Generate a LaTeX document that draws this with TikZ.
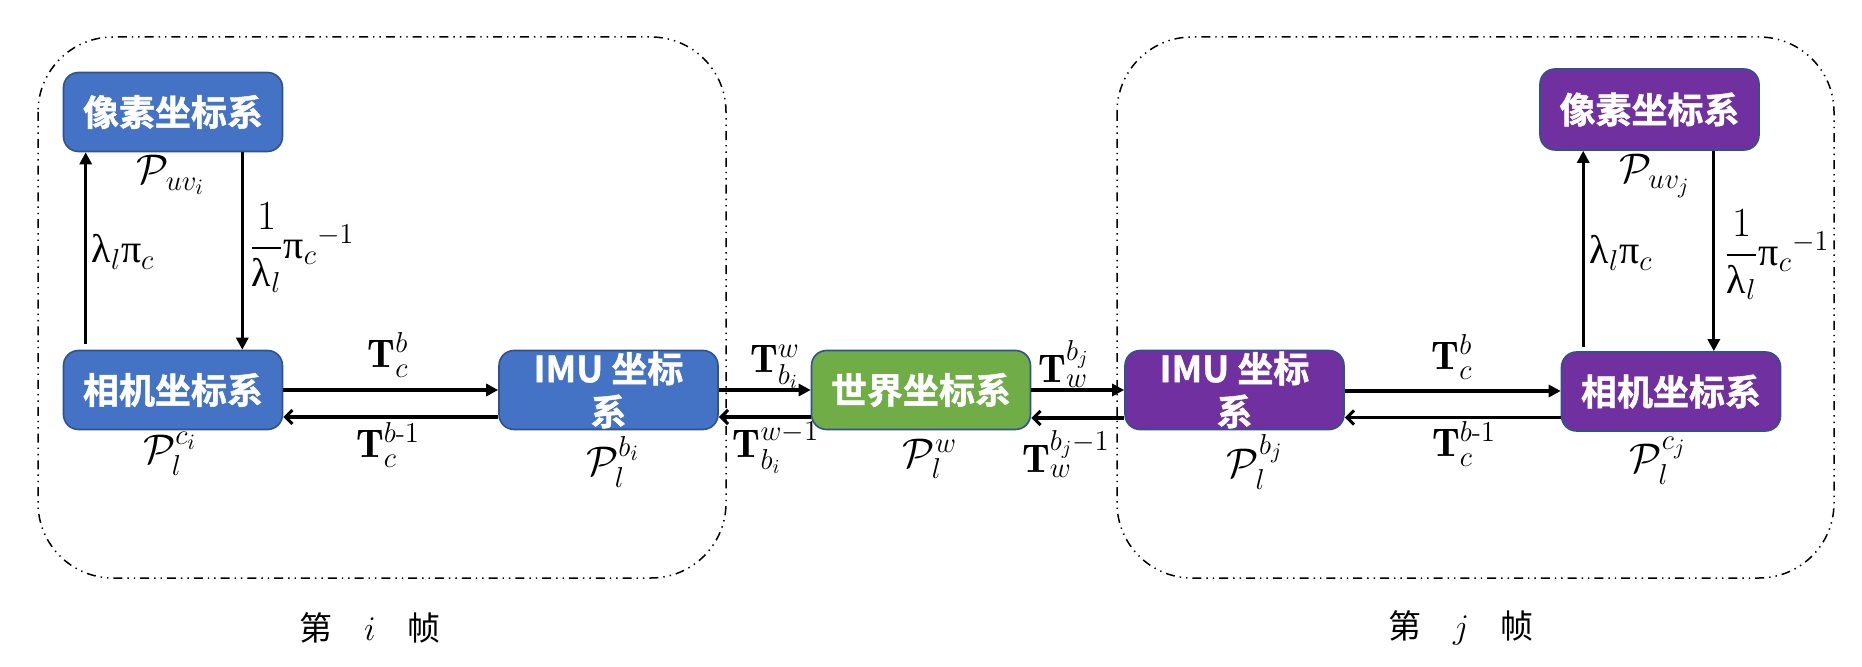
\documentclass[tikz,border=0pt]{standalone}
\usepackage{amsmath}
\usepackage{fontspec}
\newfontfamily\cjk{Noto Sans CJK SC}[BoldFont={Noto Sans CJK SC Bold},BoldFeatures={FakeBold=1.2}]
\newfontfamily\grk{Liberation Serif}
\usetikzlibrary{arrows.meta,calc}
\definecolor{boxblue}{HTML}{4472C4}
\definecolor{boxgreen}{HTML}{70AD47}
\definecolor{boxpurple}{HTML}{7030A0}
\definecolor{boxline}{HTML}{2F528F}
\newcommand{\glam}{\text{\grk λ}}
\newcommand{\gpi}{\text{\grk π}}
\begin{document}
\begin{tikzpicture}[x=0.5pt,y=-0.5pt,
  box/.style={rectangle, rounded corners=7.5pt, draw=boxline, line width=0.8pt,
    minimum width=109.5pt, minimum height=39.5pt, inner sep=0pt, text=white,
    font={\cjk\bfseries\fontsize{18}{21.5}\selectfont}, align=center},
  frame/.style={line width=0.75pt, rounded corners=37.5pt,
    dash pattern=on 4.5pt off 2.5pt on 0.7pt off 2.5pt on 0.7pt off 2.5pt},
  fwd/.style={line width=1.55pt, -{Triangle[length=6pt,width=6pt]}},
  bwd/.style={line width=1.55pt, -{Straight Barb[length=3.5pt,width=7pt]}},
  lab/.style={inner sep=0pt, font={\fontsize{20}{24}\selectfont}},
  plab/.style={inner sep=0pt, font={\fontsize{22}{26}\selectfont}},
  framecap/.style={inner sep=0pt, font={\cjk\fontsize{16.5}{20}\selectfont}}]
\useasboundingbox (0,0) rectangle (1862,667);

% frames
\draw[frame] (38,37) rectangle (726,578);
\draw[frame] (1117,37) rectangle (1834,578);

% boxes
\node[box, fill=boxblue] (pixL) at (173,112) {像素坐标系};
\node[box, fill=boxblue] (camL) at (173,390) {相机坐标系};
\node[box, fill=boxblue] (imuL) at (608.5,390) {IMU 坐标\\系};
\node[box, fill=boxgreen] (world) at (921,390) {世界坐标系};
\node[box, fill=boxpurple] (imuR) at (1234.5,390) {IMU 坐标\\系};
\node[box, fill=boxpurple] (camR) at (1671,391.5) {相机坐标系};
\node[box, fill=boxpurple, minimum height=40.5pt] (pixR) at (1649.5,109.5) {像素坐标系};

% horizontal arrows
\draw[fwd] (camL.east) -- (imuL.west);
\draw[bwd] ($(imuL.west)+(0,27)$) -- ($(camL.east)+(0,27)$);
\draw[fwd] (imuL.east) -- (world.west);
\draw[bwd] ($(world.west)+(0,27)$) -- ($(imuL.east)+(0,27)$);
\draw[fwd] (world.east) -- (imuR.west);
\draw[bwd] ($(imuR.west)+(0,28)$) -- ($(world.east)+(0,28)$);
\coordinate (ra) at ($(imuR.east)+(0,1)$);
\draw[fwd] (ra) -- (ra -| camR.west);
\coordinate (rb) at ($(camR.west)+(0,26)$);
\draw[bwd] (rb) -- (rb -| imuR.east);

% vertical arrows
\coordinate (lu) at ($(camL.north west)+(23,-6)$);
\draw[fwd] (lu) -- (lu |- pixL.south);
\coordinate (ld) at ($(pixL.south east)+(-41,0)$);
\draw[fwd] (ld) -- (ld |- camL.north);
\coordinate (ru) at ($(camR.north west)+(22.5,-4)$);
\draw[fwd] (ru) -- (ru |- pixR.south);
\coordinate (rd) at ($(pixR.south east)+(-46,0)$);
\draw[fwd] (rd) -- (rd |- camR.north);

% labels left frame
\node[plab] (puvi) at (171,175) {$\mathcal{P}_{uv_i}$};
\node[lab] (lpL) at (123,252) {$\glam_l\gpi_c$};
\node[lab] (ilpL) at (302,248) {$\dfrac{1}{\glam_l}\gpi_c{}^{-1}$};
\node[lab] (tcbL) at (388,355) {$\mathbf{T}_c^b$};
\node[lab] (tcbiL) at (388,445) {$\mathbf{T}_c^{b\text{-}1}$};
\node[plab] (plci) at (170,454) {$\mathcal{P}_l^{c_i}$};
\node[plab] (plbi) at (613,462) {$\mathcal{P}_l^{b_i}$};
\node[framecap] (capi) at (370,628) {第\hspace{0.95em}$i$\hspace{0.95em}帧};

% labels middle
\node[lab] (tbw) at (775,367) {$\mathbf{T}_{b_i}^w$};
\node[lab] (tbwi) at (776,448) {$\mathbf{T}_{b_i}^{w-1}$};
\node[plab] (plw) at (930,459) {$\mathcal{P}_l^w$};
\node[lab] (twb) at (1064,364) {$\mathbf{T}_w^{b_j}$};
\node[lab] (twbi) at (1066,454) {$\mathbf{T}_w^{b_j-1}$};

% labels right frame
\node[plab] (plbj) at (1255,462) {$\mathcal{P}_l^{b_j}$};
\node[lab] (tcbR) at (1452,357) {$\mathbf{T}_c^b$};
\node[lab] (tcbiR) at (1464,444) {$\mathbf{T}_c^{b\text{-}1}$};
\node[plab] (plcj) at (1658,461) {$\mathcal{P}_l^{c_j}$};
\node[framecap] (capj) at (1461,628) {第\hspace{0.95em}$j$\hspace{0.95em}帧};
\node[plab] (puvj) at (1655,176) {$\mathcal{P}_{uv_j}$};
\node[lab] (lpR) at (1621,253) {$\glam_l\gpi_c$};
\node[lab] (ilpR) at (1777,255) {$\dfrac{1}{\glam_l}\gpi_c{}^{-1}$};
\end{tikzpicture}
\end{document}
